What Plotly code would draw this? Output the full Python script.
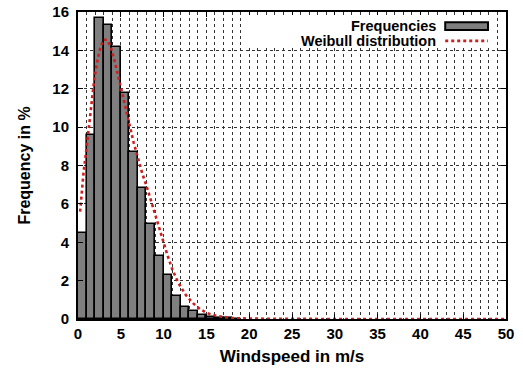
import plotly.graph_objects as go

# Histogram bins (left edges, width 1 m/s) and frequencies in %
bin_left = list(range(0, 19))
freq = [4.5, 9.6, 15.7, 15.3, 14.2, 11.8, 8.7, 6.85, 4.95, 3.3, 2.3, 1.2, 0.65, 0.4, 0.22, 0.12, 0.06, 0.03, 0.02]

# Weibull fit curve
wb_x = [0.25, 0.64, 1.1, 1.46, 1.9, 2.28, 2.65, 2.98, 3.4, 3.8, 4.25, 4.73, 5.2, 5.54, 6.13, 6.5, 6.94, 7.5, 8.1, 8.7, 9.3, 9.85, 10.4, 11.0, 11.7, 12.6, 13.5, 14.3, 15.1, 16.3, 18, 20, 25, 30, 40, 50]
wb_y = [5.6, 7.6, 9.3, 10.9, 12.5, 13.5, 14.2, 14.55, 14.55, 14.2, 13.5, 12.6, 11.7, 11.05, 9.85, 9.2, 8.5, 7.6, 6.8, 5.9, 5.0, 4.2, 3.4, 2.6, 1.9, 1.25, 0.8, 0.5, 0.3, 0.15, 0.05, 0.02, 0.0, 0.0, 0.0, 0.0]

x_ticks = list(range(0, 51, 5))
y_ticks = list(range(0, 17, 2))

FONT = "Liberation Sans"
RED = "#cc1f1f"

fig = go.Figure()
fig.add_trace(go.Bar(
    x=[b + 0.5 for b in bin_left], y=freq, width=1,
    marker=dict(color="#7f7f7f", line=dict(color="black", width=1.6)),
    name="Frequencies", showlegend=False,
))
fig.add_trace(go.Scatter(
    x=wb_x, y=wb_y, mode="lines",
    line=dict(color=RED, width=2.6, dash="dot", shape="linear"),
    name="Weibull distribution", showlegend=False,
))

grid = dict(gridcolor="#333333", griddash="dot", gridwidth=1)
fig.update_xaxes(
    range=[0, 50], tickvals=x_ticks, ticktext=[str(v) for v in x_ticks],
    ticks="inside", ticklen=5, tickwidth=1.2, tickcolor="black",
    showline=True, linecolor="black", linewidth=2, mirror="ticks",
    showgrid=True, **grid,
    minor=dict(dtick=1, tick0=0, showgrid=True, gridcolor="#333333", griddash="dot", gridwidth=1, ticks=""),
    zeroline=False, automargin=False,
    tickfont=dict(family=FONT, size=15, color="black", weight="bold"),
    title=dict(text="Windspeed in m/s", font=dict(family=FONT, size=17, color="black", weight="bold"), standoff=9),
)
fig.update_yaxes(
    range=[0, 16], tickvals=y_ticks, ticktext=[str(v) for v in y_ticks],
    ticks="inside", ticklen=5, tickwidth=1.2, tickcolor="black",
    showline=True, linecolor="black", linewidth=2, mirror="ticks",
    showgrid=True, **grid, zeroline=False, automargin=False,
    ticklabelstandoff=4,
    tickfont=dict(family=FONT, size=15, color="black", weight="bold"),
    title=dict(text="Frequency in %", font=dict(family=FONT, size=16, color="black", weight="bold"), standoff=18),
)

# gnuplot-style key at top right
shapes = [
    dict(type="rect", xref="paper", yref="paper", x0=0.384, x1=0.979, y0=0.883, y1=0.99,
         fillcolor="white", line=dict(width=0), layer="above"),
    dict(type="rect", xref="paper", yref="paper", x0=0.858, x1=0.958, y0=0.941, y1=0.967,
         fillcolor="#7f7f7f", line=dict(color="black", width=2), layer="above"),
    dict(type="line", xref="paper", yref="paper", x0=0.858, x1=0.958, y0=0.906, y1=0.906,
         line=dict(color=RED, width=2.6, dash="dot"), layer="above"),
]
annotations = [
    dict(xref="paper", yref="paper", x=0.842, y=0.954, text="Frequencies", showarrow=False,
         xanchor="right", yanchor="middle", font=dict(family=FONT, size=14.5, color="black", weight="bold")),
    dict(xref="paper", yref="paper", x=0.842, y=0.906, text="Weibull distribution", showarrow=False,
         xanchor="right", yanchor="middle", font=dict(family=FONT, size=14.5, color="black", weight="bold")),
]

fig.update_layout(
    width=523, height=369,
    margin=dict(l=78, r=17, t=12, b=50, pad=0),
    paper_bgcolor="white", plot_bgcolor="white",
    bargap=0, showlegend=False,
    shapes=shapes, annotations=annotations,
)

fig.write_html("out.html")
